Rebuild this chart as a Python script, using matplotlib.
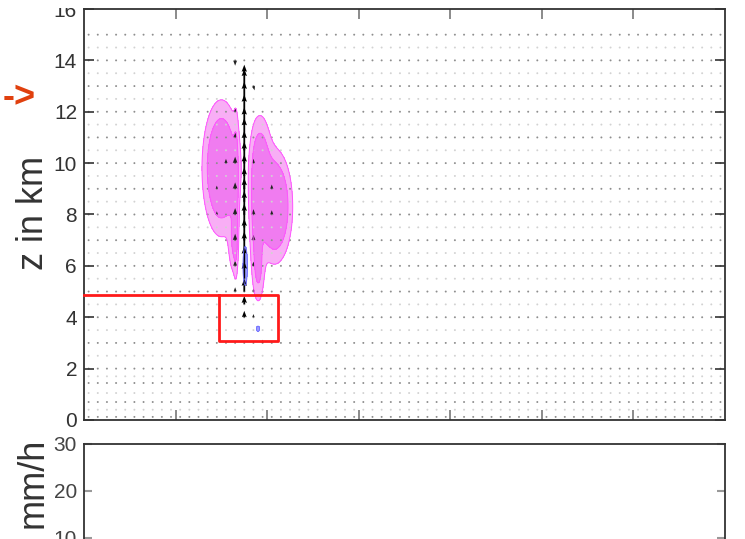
import numpy as np
import matplotlib
matplotlib.use("Agg")
import matplotlib.pyplot as plt
from matplotlib.patches import Rectangle

plt.rcParams['font.family'] = ['Liberation Sans', 'DejaVu Sans']

# model columns (km) and levels (km); levels are stretched near the ground
x_cols = np.arange(0.5, 70.0, 1.0)
z_full = [0.12, 0.7, 1.44, 2.0, 3.0, 4.0, 5.0, 6.0, 7.0, 8.0, 9.0, 10.0,
          11.0, 12.0, 13.0, 14.0, 15.0]
z_half = [0.4, 1.05, 1.7, 2.5, 3.5, 4.5, 5.5, 6.5, 7.5, 8.5, 9.5, 10.5,
          11.5, 12.5, 13.5, 14.5]

# updraft core column
core_x = 17.5
core_z = [4.0, 4.5, 5.0, 5.5, 6.0, 6.5, 7.0, 7.5, 8.0, 8.5, 9.0, 9.5,
          10.0, 10.5, 11.0, 11.5, 12.0, 12.5, 13.0, 13.5]
core_w = [3, 4, 6, 8, 9, 10, 10, 11, 11, 11, 10, 10, 10, 9, 9, 8, 8, 8, 8, 4]

# weaker wind vectors around the cloud (x, z, u, w) in km and m/s
side_x = [16.5, 18.5, 16.5, 16.5, 16.5, 16.5, 16.5, 16.5, 16.5, 16.5,
          18.5, 18.5, 18.5, 18.5, 18.5, 18.5, 20.5, 20.5, 14.5, 14.5, 15.5, 19.5]
side_z = [14.0, 13.0, 12.0, 11.0, 10.0, 9.0, 8.0, 7.0, 6.0, 5.0,
          10.0, 8.0, 7.0, 6.0, 5.0, 4.0, 9.0, 8.0, 9.0, 8.0, 10.0, 3.0]
side_u = [0, 1.5, 0, 0, 0, 0, 0, 0, 0, 0,
          0, 0, 0, 0, 0, 0, 0, 0, 0, 0, 0, 0]
side_w = [-2.5, -2.0, 2.0, 2.5, 3.0, 3.0, 3.0, 3.0, 2.5, 2.0,
          2.0, 2.5, 2.5, 2.0, 1.5, 1.5, 2.0, 2.0, 1.5, 1.5, 2.0, 1.5]

# cloud blobs: centre x, centre z, width x, width z, amplitude
cloud_x0 = [15.0, 16.3, 19.3, 20.8, 19.1, 16.6, 18.6]
cloud_z0 = [9.8, 6.8, 10.3, 8.3, 5.8, 8.5, 8.0]
cloud_sx = [1.75, 0.5, 1.0, 1.6, 0.6, 0.25, 0.6]
cloud_sz = [2.2, 1.2, 1.6, 1.8, 1.3, 3.0, 2.5]
cloud_a = [1.3, 0.5, 0.7, 1.4, 0.55, 0.5, 0.5]

# rain blobs
rain_x0 = [17.6, 19.0]
rain_z0 = [6.0, 3.55]
rain_sx = [0.25, 0.18]
rain_sz = [0.8, 0.12]
rain_a = [1.0, 0.9]

rain_ticks = [10, 20, 30]


def blob_field(xx, zz, x0, z0, sx, sz, a):
    f = np.zeros_like(xx)
    for i in range(len(x0)):
        f += a[i] * np.exp(-((xx - x0[i]) / sx[i]) ** 2 - ((zz - z0[i]) / sz[i]) ** 2)
    return f


fig = plt.figure(figsize=(7.45, 5.39), dpi=100)
ax = fig.add_axes([0.1128, 0.2208, 0.8604, 0.7625])
ax2 = fig.add_axes([0.1128, -0.0853, 0.8604, 0.2616])

xg = np.linspace(0, 70, 701)
zg = np.linspace(0, 16, 641)
XX, ZZ = np.meshgrid(xg, zg)
cloud = blob_field(XX, ZZ, cloud_x0, cloud_z0, cloud_sx, cloud_sz, cloud_a)
rain = blob_field(XX, ZZ, rain_x0, rain_z0, rain_sx, rain_sz, rain_a)

ax.contourf(XX, ZZ, cloud, levels=[0.3, 0.6, 100], colors=['#f8aef5', '#f07cf0'])
ax.contour(XX, ZZ, cloud, levels=[0.3, 0.6], colors=['#ff55ff'], linewidths=0.7)
ax.contourf(XX, ZZ, rain, levels=[0.4, 100], colors=['#9c9cff'])
ax.contour(XX, ZZ, rain, levels=[0.4], colors=['#6f6fff'], linewidths=0.6)

# calm grid points show up as dots
Xf, Zf = np.meshgrid(x_cols, z_full)
Xh, Zh = np.meshgrid(x_cols, z_half)
qkw = dict(angles='xy', scale_units='xy', scale=12, width=0.0028,
           headwidth=3, headlength=4, headaxislength=3.5, minlength=1.2)
ax.quiver(Xf, Zf, np.zeros_like(Xf), np.zeros_like(Zf), color='#8e8e8e', **qkw)
ax.quiver(Xh, Zh, np.zeros_like(Xh), np.zeros_like(Zh), color='#d2d2d2', **qkw)

ax.quiver(side_x, side_z, side_u, side_w, color='#222222', **qkw)
ax.quiver(np.full(len(core_z), core_x), core_z, np.zeros(len(core_z)), core_w,
          color='black', **qkw)

ax.set_xlim(0, 70)
ax.set_ylim(0, 16)
ax.set_xticks(np.arange(10, 70, 10))
ax.set_xticklabels([])
ax.set_yticks(np.arange(0, 17, 2))
ax.tick_params(axis='y', direction='in', length=7, width=1.2, right=True,
               labelsize=15, labelcolor='#333333', color='#333333', pad=5)
ax.tick_params(axis='x', direction='in', length=7, width=1.2, top=True,
               color='#777777')
ax.set_ylabel('z in km', fontsize=26, color='#333333')
ax.yaxis.set_label_coords(-0.052, 0.504)

ax2.set_xlim(0, 70)
ax2.set_ylim(0, 30)
ax2.set_xticks([])
ax2.set_yticks(rain_ticks)
ax2.tick_params(axis='y', direction='in', length=6, width=1.5, right=True,
                labelsize=15, labelcolor='#444444', color='#999999', pad=5)
ax2.set_ylabel('mm/h', fontsize=26, color='#333333')
ax2.yaxis.set_label_coords(-0.052, 0.723)

for a in (ax, ax2):
    for s in a.spines.values():
        s.set_linewidth(1.3)
        s.set_color('#333333')

# highlight box below the cloud base
ax.plot([0, 21.19, 21.19, 14.74, 14.74], [4.87, 4.87, 3.08, 3.08, 4.87],
        color='#ff1a1a', lw=2, clip_on=False, zorder=5)
fig.text(0.0483, 0.818, '->', ha='right', va='center', fontsize=26,
         fontweight='bold', color='#e0400e')

# the panel is trimmed just above the top frame
fig.add_artist(Rectangle((0, 1 - 8 / 539), 1, 8 / 539, transform=fig.transFigure,
                         facecolor='white', edgecolor='none', zorder=10))

fig.savefig('out.png', dpi=100)
